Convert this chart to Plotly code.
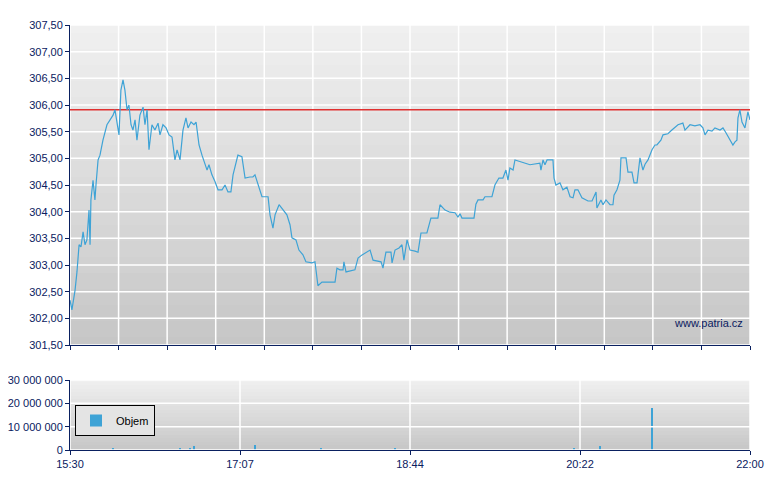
import plotly.graph_objects as go

# minutes since 15:30
t = [0,1.1,2.9,4.0,5.2,6.3,7.5,8.6,9.7,10.9,11.5,12.0,13.2,14.3,14.9,16.1,17.2,18.9,21.2,22.9,24.7,25.8,27.0,28.1,29.2,30.4,31.5,32.7,33.8,35.0,36.1,37.3,38.4,40.1,41.9,43.0,44.2,45.3,47.0,48.7,50.5,51.6,53.3,55.1,56.8,58.5,60.2,61.4,63.1,64.8,66.5,67.7,69.4,71.1,72.3,74.0,75.7,77.4,78.6,79.7,81.4,83.2,84.9,87.2,88.9,90.6,92.3,93.5,96.3,98.6,100.4,103.2,104.9,106.1,107.8,110.1,113.6,114.7,116.4,117.6,119.9,122.2,124.4,126.2,127.3,129.6,131.3,133.6,135.3,138.8,140.5,142.2,144.5,152.0,153.1,154.8,156.6,157.1,158.3,163.4,165.2,167.5,172.1,173.8,178.4,179.5,181.2,184.1,184.7,186.4,188.7,190.4,191.5,193.3,195.0,197.9,199.6,201.3,204.7,207.0,211.0,212.2,215.1,217.9,220.8,222.5,223.7,224.8,226.5,231.7,232.8,234.0,236.9,238.0,242.0,243.7,246.0,248.3,250.0,251.2,252.3,254.1,255.2,260.9,263.8,269.5,270.1,271.3,272.4,273.6,277.0,277.6,278.7,281.0,282.7,285.0,286.8,288.5,289.6,291.3,293.6,297.1,299.4,301.7,302.2,304.5,305.7,307.4,309.7,311.4,312.0,313.7,315.4,316.0,318.9,320.0,322.3,323.5,325.2,326.9,328.6,329.8,331.5,333.8,335.5,336.6,338.9,340.1,342.9,345.2,346.4,348.7,351.5,352.7,355.6,358.4,361.3,363.0,364.2,365.9,368.2,369.9,372.8,374.5,376.2,378.5,380.2,381.4,382.5,383.1,384.2,385.4,387.1,388.8,390]
price = [302.34,302.16,302.53,302.87,303.38,303.34,303.62,303.38,303.47,304.03,303.38,304.22,304.59,304.22,304.50,304.97,305.06,305.34,305.63,305.72,305.81,305.91,305.63,305.44,306.28,306.47,306.28,305.91,306.00,305.63,305.53,305.72,305.34,305.81,305.96,305.63,305.91,305.16,305.63,305.53,305.66,305.44,305.63,305.57,305.44,305.40,304.97,305.16,304.97,305.53,305.76,305.57,305.68,305.63,305.68,305.25,305.06,304.91,304.78,304.88,304.69,304.56,304.41,304.41,304.50,304.37,304.37,304.69,305.06,305.03,304.63,304.65,304.65,304.69,304.50,304.28,304.28,303.94,303.69,303.94,304.13,304.03,303.94,303.75,303.51,303.47,303.28,303.19,303.06,303.04,303.06,302.61,302.68,302.68,302.94,302.91,302.91,303.06,302.87,302.91,303.13,303.19,303.28,303.09,303.06,302.94,303.24,303.24,303.04,303.28,303.32,303.38,303.09,303.47,303.28,303.26,303.24,303.60,303.60,303.88,303.88,304.13,304.03,303.99,303.98,303.90,303.96,303.88,303.88,303.88,304.14,304.22,304.22,304.28,304.28,304.50,304.63,304.63,304.78,304.59,304.82,304.78,304.97,304.91,304.88,304.91,304.78,304.97,304.88,304.97,304.97,304.63,304.50,304.54,304.41,304.46,304.28,304.26,304.41,304.41,304.26,304.20,304.20,304.37,304.07,304.22,304.13,304.22,304.13,304.13,304.31,304.41,304.59,305.01,305.01,304.74,304.74,304.54,304.54,305.01,304.78,304.89,304.97,305.16,305.25,305.25,305.34,305.44,305.46,305.53,305.57,305.63,305.66,305.53,305.63,305.61,305.63,305.57,305.44,305.53,305.51,305.57,305.53,305.57,305.48,305.34,305.25,305.31,305.34,305.76,305.91,305.68,305.57,305.87,305.72]
ref_price = 305.91

vol_t = [24.7,63.1,68.8,71.1,106.1,143.9,186.4,289.0,304.0,333.8]
vol = [500000,1000000,1000000,1600000,2200000,500000,600000,1000000,1600000,18000000]

xlabels = ["15:30","17:07","18:44","20:22","22:00"]
xlabel_pos = [0,97.5,195,292.5,390]
main_grid = [390/14*i for i in range(15)]
price_ticks = [301.5+0.5*i for i in range(13)]
vol_ticks = [0,10000000,20000000,30000000]

W, H = 772, 482
navy = "#0a2060"
font = dict(family="Liberation Sans", size=11, color=navy)
fig = go.Figure()
gscale = [[0,"#c6c6c6"],[1,"#f0f0f0"]]

def bg(xa, ya, y0, y1):
    fig.add_trace(go.Heatmap(x=[0,390], y=[y0 + (y1-y0)*i/20 for i in range(21)],
        z=[[i,i] for i in range(21)], colorscale=gscale, showscale=False, hoverinfo="skip",
        xaxis=xa, yaxis=ya))

def gridlines(xa, ya, xs, ys, y0, y1):
    gx, gy = [], []
    for v in xs:
        gx += [v, v, None]; gy += [y0, y1, None]
    for v in ys:
        gx += [0, 390, None]; gy += [v, v, None]
    fig.add_trace(go.Scatter(x=gx, y=gy, mode="lines", line=dict(color="white", width=1.5),
        hoverinfo="skip", showlegend=False, xaxis=xa, yaxis=ya))

bg("x","y",301.5,307.5)
bg("x2","y2",0,30000000)
fig.add_trace(go.Bar(x=vol_t, y=vol, width=1.2, marker=dict(color="#3ea3d6", line=dict(width=0)),
    name="Objem", showlegend=True, xaxis="x2", yaxis="y2"))
gridlines("x","y",main_grid,price_ticks,301.5,307.5)
gridlines("x2","y2",xlabel_pos,vol_ticks,0,30000000)

fig.add_trace(go.Scatter(x=[0,390], y=[ref_price,ref_price], mode="lines",
    line=dict(color="#e03030", width=1.5), showlegend=False))
fig.add_trace(go.Scatter(x=t, y=price, mode="lines", line=dict(color="#3ea3d6", width=1.2), showlegend=False))

ax = dict(ticks="outside", ticklen=4, tickcolor=navy, showline=True, linecolor=navy, linewidth=1,
          zeroline=False, showgrid=False, automargin=False)
fig.update_layout(
    width=W, height=H, margin=dict(l=0,r=0,t=0,b=0), paper_bgcolor="white", plot_bgcolor="white",
    separators=", ", font=font, bargap=0,
    xaxis=dict(domain=[62/W,742/W], range=[0,390], tickvals=main_grid, showticklabels=False,
               anchor="y", **ax),
    yaxis=dict(domain=[1-337/H,1-17/H], range=[301.5,307.5], tickvals=price_ticks, tickformat=".2f", **ax),
    xaxis2=dict(domain=[62/W,742/W], range=[0,390], tickvals=xlabel_pos, ticktext=xlabels,
                anchor="y2", **ax),
    yaxis2=dict(domain=[1-442/H,1-372/H], range=[0,30000000], tickvals=vol_ticks, tickformat=",d",
                anchor="x2", **ax),
    legend=dict(x=67/W, y=1-397/H, xanchor="left", yanchor="top", bgcolor="#e4e4e4",
                bordercolor="black", borderwidth=1, itemwidth=30,
                font=dict(family="Liberation Sans", size=11, color="black")),
    annotations=[dict(text="www.patria.cz", x=737/W, y=1-315/H, xref="paper", yref="paper",
                      xanchor="right", yanchor="middle", showarrow=False,
                      font=dict(family="Liberation Sans", size=11, color=navy))],
)
fig.write_html("out.html")
